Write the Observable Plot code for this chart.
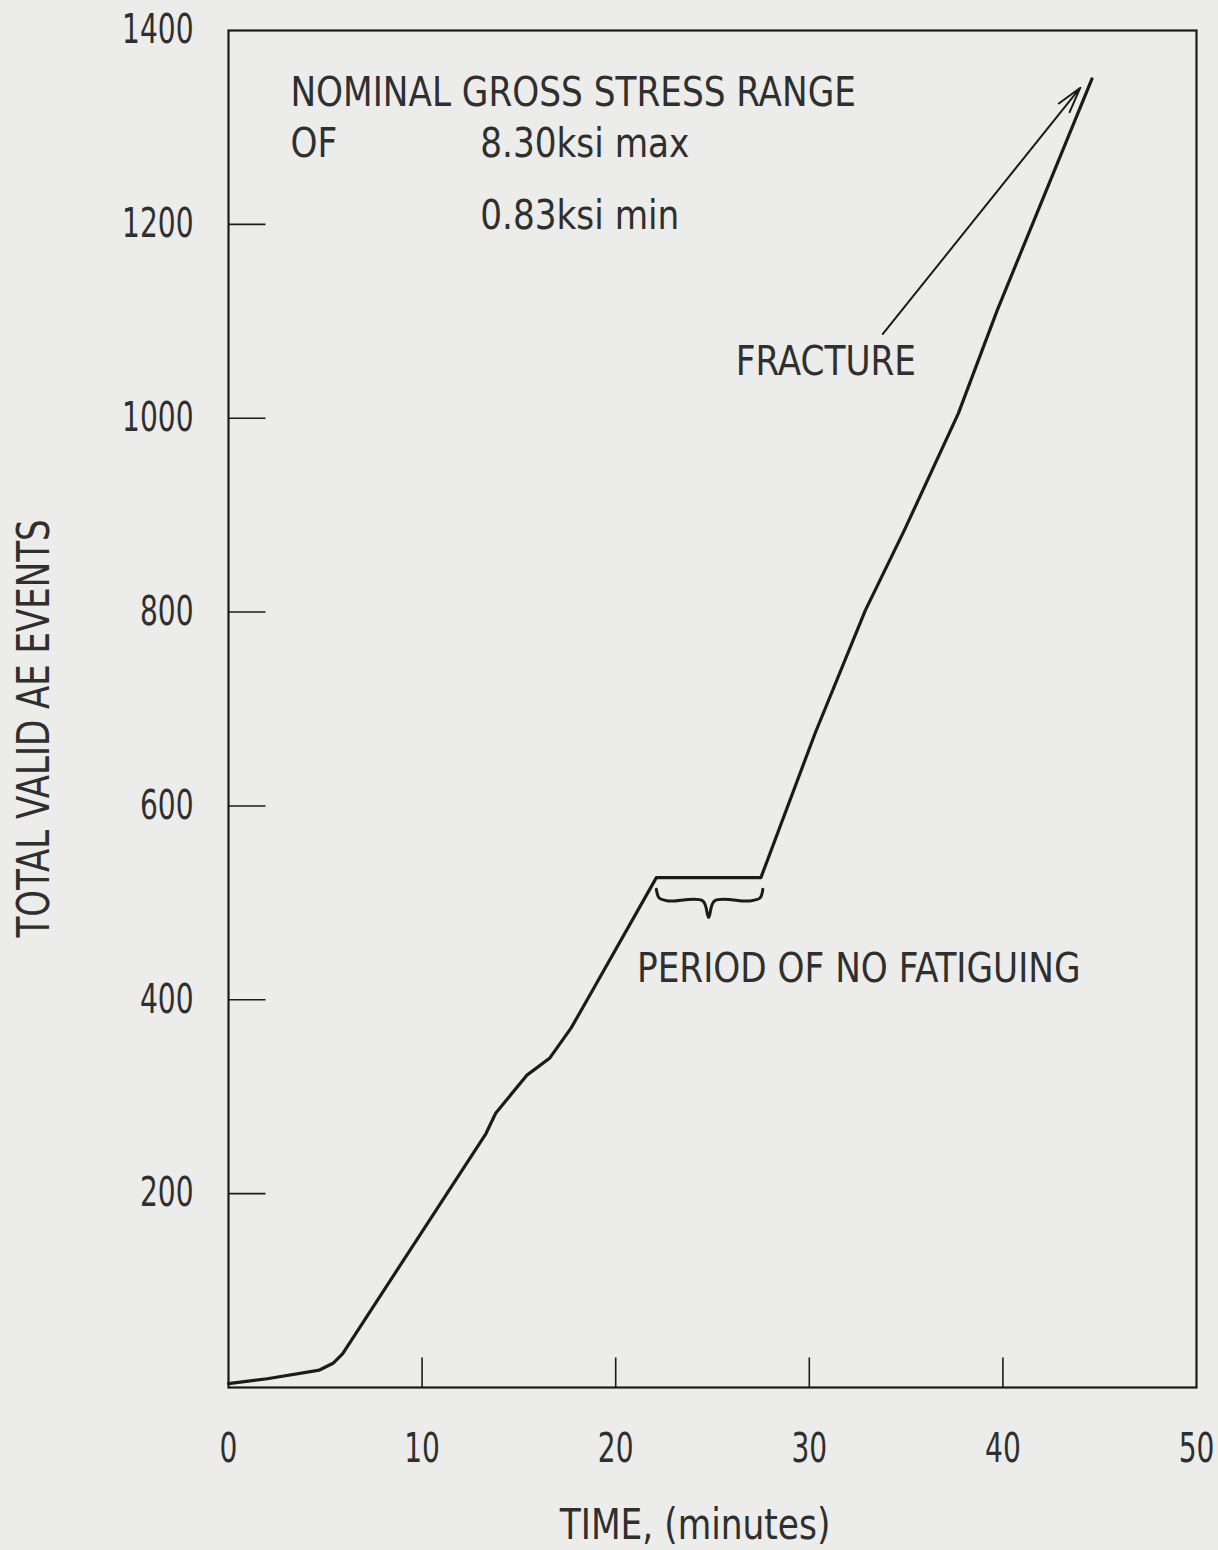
<!DOCTYPE html>
<html>
<head>
<meta charset="utf-8">
<script src="https://cdn.jsdelivr.net/npm/d3@7"></script>
<script src="https://cdn.jsdelivr.net/npm/@observablehq/plot@0.6"></script>
<style>
  html, body { margin: 0; padding: 0; background: #ececea; }
  #chart svg { display: block; }
</style>
</head>
<body>
<div id="chart"></div>
<script>
// ---- data ----
const time   = [0, 2.0, 4.7, 5.4, 5.9, 13.3, 13.8, 15.4, 16.6, 17.7, 18.5, 22.1, 27.5, 30.3, 32.9, 34.9, 37.7, 39.7, 42.3, 44.6];
const events = [4, 9, 18, 25, 35, 262, 283, 322, 340, 371, 399, 526, 526, 675, 802, 884, 1005, 1111, 1238, 1350];

const xTickLabels = [0, 10, 20, 30, 40, 50];
const xTickMarks  = [10, 20, 30, 40];
const yTickLabels = [200, 400, 600, 800, 1000, 1200, 1400];
const yTickMarks  = [200, 400, 600, 800, 1000, 1200];

const xLabel = "TIME, (minutes)";
const yLabel = "TOTAL VALID AE EVENTS";

// annotation text and anchor positions (data units)
const noteText = ["NOMINAL GROSS STRESS RANGE", "OF", "8.30ksi max", "0.83ksi min", "FRACTURE", "PERIOD OF NO FATIGUING"];
const noteX    = [3.2, 3.2, 13.0, 13.0, 26.2, 21.1];
const noteY    = [1336, 1283, 1283, 1209, 1058, 432];

// arrow from the FRACTURE label to the end of the curve
const arrowFrom = [33.8, 1087];
const arrowTo   = [44.0, 1341];

// brace under the flat "no fatiguing" segment
const braceX = [22.1, 22.25, 22.7, 24.5, 24.8, 25.1, 26.9, 27.45, 27.6];
const braceY = [514, 505, 502, 502, 485, 502, 502, 505, 514];

// ---- styling ----
const ink = "#1b1b1b";
const textInk = "#2f2f2f";
const font = '"Liberation Sans Narrow", "DejaVu Sans Condensed", "Arial Narrow", sans-serif';
const squeeze = {tick: 0.78, notes: 0.93, xlabel: 0.89, ylabel: 0.86};

// ---- build ----
const curve = time.map((t, i) => ({t, e: events[i]}));
const notes = noteText.map((s, i) => ({s, x: noteX[i], y: noteY[i]}));
const brace = braceX.map((x, i) => ({x, y: braceY[i]}));

const tickUp = {draw(ctx) { ctx.moveTo(0, 0); ctx.lineTo(0, -30); }};
const tickRight = {draw(ctx) { ctx.moveTo(0, 0); ctx.lineTo(37, 0); }};

const chart = Plot.plot({
  width: 1218,
  height: 1550,
  marginLeft: 228,
  marginRight: 22,
  marginTop: 30,
  marginBottom: 163,
  style: {fontFamily: font, fontSize: "40px", background: "#ececea", color: textInk, fontStretch: "condensed"},
  x: {domain: [0, 50]},
  y: {domain: [0, 1400]},
  marks: [
    Plot.frame({stroke: ink, strokeWidth: 2.2}),
    Plot.axisX({ticks: xTickLabels, tickSize: 0, tickPadding: 46, tickFormat: d => String(d), label: null, fontSize: 40}),
    Plot.axisY({ticks: yTickLabels, tickSize: 0, tickPadding: 35, tickFormat: d => String(d), label: null, fontSize: 40}),
    Plot.dot(xTickMarks, {x: d => d, y: 0, symbol: tickUp, stroke: ink, strokeWidth: 1.6, fill: "none"}),
    Plot.dot(yTickMarks, {x: 0, y: d => d, symbol: tickRight, stroke: ink, strokeWidth: 1.6, fill: "none"}),
    Plot.line(curve, {x: "t", y: "e", stroke: ink, strokeWidth: 3.2, strokeLinejoin: "round"}),
    Plot.line(brace, {x: "x", y: "y", stroke: ink, strokeWidth: 3, curve: "catmull-rom"}),
    Plot.arrow([0], {x1: () => arrowFrom[0], y1: () => arrowFrom[1], x2: () => arrowTo[0], y2: () => arrowTo[1],
                     stroke: ink, strokeWidth: 2, headLength: 20, headAngle: 30}),
    Plot.text(notes, {x: "x", y: "y", text: "s", textAnchor: "start", lineAnchor: "middle", fontSize: 41, fill: textInk}),
    Plot.text([xLabel], {x: 24.1, frameAnchor: "bottom", dy: 138, text: d => d, textAnchor: "middle", lineAnchor: "middle", fontSize: 43, fill: textInk}),
    Plot.text([yLabel], {y: 680, frameAnchor: "left", dx: -194, rotate: -90, text: d => d, textAnchor: "middle", lineAnchor: "middle", fontSize: 44, fill: textInk})
  ]
});

// narrow the glyphs horizontally around each text's anchor, like the condensed typeface of the original
chart.querySelectorAll("text").forEach(t => {
  const g = t.closest("g[aria-label]");
  const label = g ? g.getAttribute("aria-label") : "";
  const content = t.textContent;
  let s = squeeze.notes;
  if (label.includes("tick")) s = squeeze.tick;
  else if (content === xLabel) s = squeeze.xlabel;
  else if (content === yLabel) s = squeeze.ylabel;
  const tr = t.getAttribute("transform");
  if (tr) {
    t.setAttribute("transform", tr + ` scale(${s},1)`);
  } else {
    const x = +(t.getAttribute("x") || 0), y = +(t.getAttribute("y") || 0);
    t.setAttribute("x", 0); t.setAttribute("y", 0);
    t.setAttribute("transform", `translate(${x},${y}) scale(${s},1)`);
  }
});

document.getElementById("chart").appendChild(chart);
</script>
</body>
</html>
